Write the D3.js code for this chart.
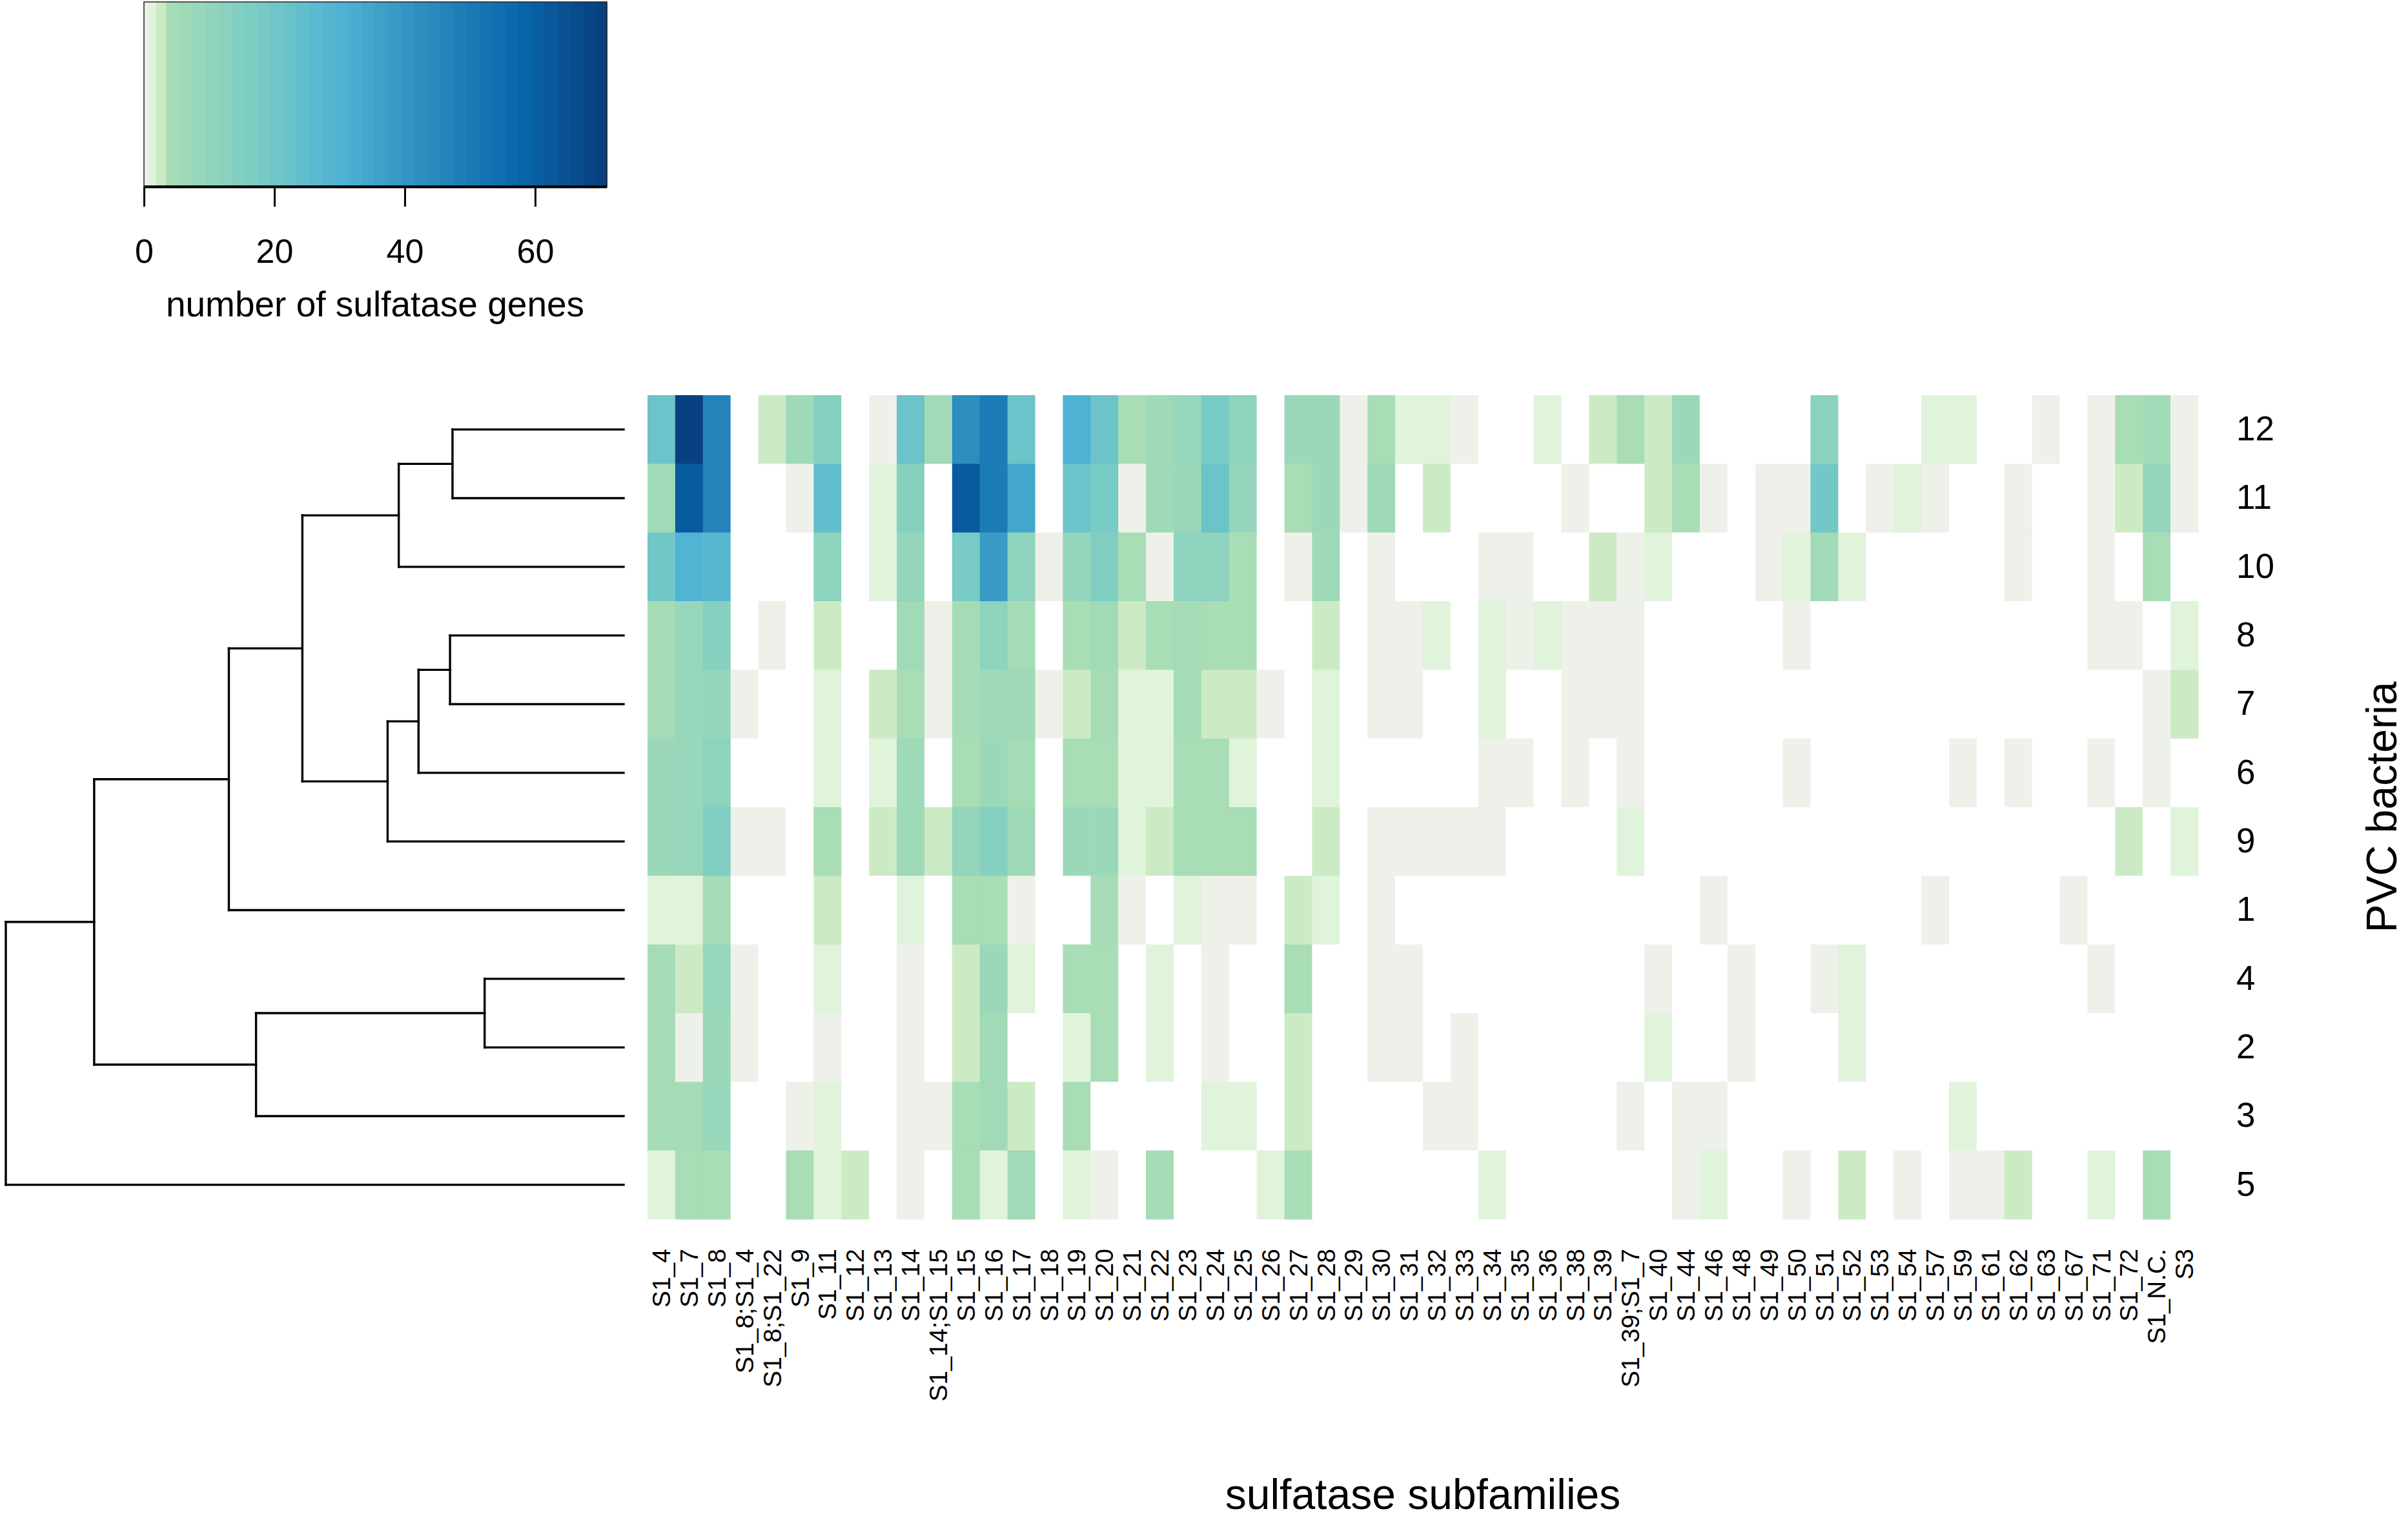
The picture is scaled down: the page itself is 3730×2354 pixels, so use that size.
<!DOCTYPE html>
<html>
<head>
<meta charset="utf-8">
<script src="https://cdn.jsdelivr.net/npm/d3@7"></script>
<style>
  body { margin: 0; background: #fff; }
  svg text { font-family: "Liberation Sans", Arial, sans-serif; fill: #000; }
</style>
</head>
<body>
<svg id="chart" width="3730" height="2354"></svg>
<script>
"use strict";

// columns of the heatmap
var subfamilies = ["S1_4","S1_7","S1_8","S1_8;S1_4","S1_8;S1_22","S1_9","S1_11","S1_12","S1_13","S1_14",
  "S1_14;S1_15","S1_15","S1_16","S1_17","S1_18","S1_19","S1_20","S1_21","S1_22","S1_23",
  "S1_24","S1_25","S1_26","S1_27","S1_28","S1_29","S1_30","S1_31","S1_32","S1_33",
  "S1_34","S1_35","S1_36","S1_38","S1_39","S1_39;S1_7","S1_40","S1_44","S1_46","S1_48",
  "S1_49","S1_50","S1_51","S1_52","S1_53","S1_54","S1_57","S1_59","S1_61","S1_62",
  "S1_63","S1_67","S1_71","S1_72","S1_N.C.","S3"];

// rows, in dendrogram order (top to bottom)
var strains = ["12","11","10","8","7","6","9","1","4","2","3","5"];

var row12 = [22,71,47,0,3,7,14,0,1,22, 6,44,50,22,0,31,22,4,7,9, 18,12,0,8,8,1,4,2,2,1, 0,0,2,0,3,4,3,8,0,0, 0,0,13,0,0,0,2,2,0,0, 1,0,1,4,6,1];
var row11 = [6,62,47,0,0,1,25,0,2,14, 0,62,50,35,0,22,18,1,7,8, 22,10,0,4,8,1,7,0,3,0, 0,0,0,1,0,0,3,4,1,0, 1,1,20,0,1,2,1,0,0,1, 0,0,1,3,10,1];
var row10 = [20,30,28,0,0,0,12,0,2,10, 0,18,39,12,1,10,16,4,1,12, 12,4,0,1,7,0,1,0,0,0, 1,1,0,0,3,1,2,0,0,0, 1,2,6,2,0,0,0,0,0,1, 0,0,1,0,4,0];
var row8  = [5,9,14,0,1,0,3,0,0,6, 1,5,12,5,0,4,6,3,4,5, 4,4,0,0,3,0,1,1,2,0, 2,1,2,1,1,1,0,0,0,0, 0,1,0,0,0,0,0,0,0,0, 0,0,1,1,0,2];
var row7  = [5,9,10,1,0,0,2,0,3,4, 1,5,7,7,1,3,5,2,2,5, 3,3,1,0,2,0,1,1,0,0, 2,0,0,1,1,1,0,0,0,0, 0,0,0,0,0,0,0,0,0,0, 0,0,0,0,1,3];
var row6  = [8,9,12,0,0,0,2,0,2,7, 0,4,8,5,0,4,4,2,2,4, 4,2,0,0,2,0,0,0,0,0, 1,1,0,1,0,1,0,0,0,0, 0,1,0,0,0,0,0,1,0,1, 0,0,1,0,1,0];
var row9  = [8,9,16,1,1,0,4,0,3,7, 3,10,14,7,0,8,8,2,3,4, 4,4,0,0,3,0,1,1,1,1, 1,0,0,0,0,2,0,0,0,0, 0,0,0,0,0,0,0,0,0,0, 0,0,0,3,0,2];
var row1  = [2,2,5,0,0,0,3,0,0,2, 0,4,4,1,0,0,5,1,0,2, 1,1,0,3,2,0,1,0,0,0, 0,0,0,0,0,0,0,0,1,0, 0,0,0,0,0,0,1,0,0,0, 0,1,0,0,0,0];
var row4  = [5,3,9,1,0,0,2,0,0,1, 0,3,8,2,0,4,4,0,2,0, 1,0,0,4,0,0,1,1,0,0, 0,0,0,0,0,0,1,0,0,1, 0,0,1,2,0,0,0,0,0,0, 0,0,1,0,0,0];
var row2  = [5,1,8,1,0,0,1,0,0,1, 0,3,6,0,0,2,4,0,2,0, 1,0,0,3,0,0,1,1,0,1, 0,0,0,0,0,0,2,0,0,1, 0,0,0,2,0,0,0,0,0,0, 0,0,0,0,0,0];
var row3  = [5,5,9,0,0,1,2,0,0,1, 1,4,6,3,0,4,0,0,0,0, 2,2,0,3,0,0,0,0,1,1, 0,0,0,0,0,1,0,1,1,0, 0,0,0,0,0,0,0,2,0,0, 0,0,0,0,0,0];
var row5  = [2,4,4,0,0,4,2,3,0,1, 0,4,2,6,0,2,1,0,5,0, 0,0,2,4,0,0,0,0,0,0, 2,0,0,0,0,0,0,1,2,0, 0,1,0,3,0,1,0,1,1,3, 0,0,2,0,4,0];

var counts = [row12, row11, row10, row8, row7, row6, row9, row1, row4, row2, row3, row5];

// hierarchical clustering of the rows: [left, right, height]; merge i is called "m" + (i + 1)
var merges = [
  ["12", "11", 27.7],
  ["m1", "10", 36.4],
  ["8", "7", 28.1],
  ["m3", "6", 33.2],
  ["m4", "9", 38.2],
  ["m2", "m5", 52.0],
  ["m6", "1", 63.9],
  ["4", "2", 22.5],
  ["m8", "3", 59.5],
  ["m7", "m9", 85.7],
  ["m10", "5", 100]
];

// colour key
var legendTicks = [0, 20, 40, 60];
var legendMax = 71;
var colorStops = [1, 2, 3, 4, 17.4, 30.8, 44.2, 57.6, 71];
var colorRange = ["#eef1e9", "#e0f3db", "#ccebc5", "#a8ddb5", "#7bccc4", "#4eb3d3", "#2b8cbe", "#0868ac", "#084081"];

var svg = d3.select("#chart");

var fill = d3.scaleLinear().domain(colorStops).range(colorRange).clamp(true);
function cellColor(v) { return v === 0 ? "#ffffff" : fill(v); }

var x = d3.scaleBand().domain(subfamilies).range([1003, 3405]);
var y = d3.scaleBand().domain(strains).range([612, 1888]);

// cells
var cells = [];
counts.forEach(function(row, i) {
  row.forEach(function(v, j) {
    cells.push({ strain: strains[i], sub: subfamilies[j], v: v });
  });
});

svg.append("g")
  .selectAll("rect")
  .data(cells)
  .enter().append("rect")
    .attr("x", function(d) { return x(d.sub) })
    .attr("y", function(d) { return y(d.strain) })
    .attr("width", x.bandwidth() + 0.6)
    .attr("height", y.bandwidth() + 0.6)
    .attr("fill", function(d) { return cellColor(d.v) })

// column labels
var xAxis = svg.append("g")
  .attr("transform", "translate(0,1888)")
  .call(d3.axisBottom(x).tickSize(0));
xAxis.select(".domain").remove();
xAxis.selectAll("text")
  .attr("transform", "rotate(-90)")
  .attr("x", -46)
  .attr("y", 0)
  .attr("dy", "0.35em")
  .style("text-anchor", "end")
  .style("font-size", "39px");

// row labels
var yAxis = svg.append("g")
  .attr("transform", "translate(3405,0)")
  .call(d3.axisRight(y).tickSize(0).tickPadding(59));
yAxis.select(".domain").remove();
yAxis.selectAll("text")
  .style("font-size", "53px");

// dendrogram
var h = d3.scaleLinear().domain([0, 100]).range([966, 9]);
var nodes = {};
strains.forEach(function(s) {
  nodes[s] = { y: y(s) + y.bandwidth() / 2, h: 0 };
});
var segments = [];
merges.forEach(function(m, i) {
  var a = nodes[m[0]], b = nodes[m[1]];
  segments.push({ x1: h(m[2]), y1: a.y, x2: h(m[2]), y2: b.y });
  segments.push({ x1: h(m[2]), y1: a.y, x2: h(a.h), y2: a.y });
  segments.push({ x1: h(m[2]), y1: b.y, x2: h(b.h), y2: b.y });
  nodes["m" + (i + 1)] = { y: (a.y + b.y) / 2, h: m[2] };
});

svg.append("g")
  .selectAll("line")
  .data(segments)
  .enter().append("line")
    .attr("x1", function(d) { return d.x1 })
    .attr("y1", function(d) { return d.y1 })
    .attr("x2", function(d) { return d.x2 })
    .attr("y2", function(d) { return d.y2 })
    .style("stroke", "#000")
    .style("stroke-width", 3.4)
    .style("stroke-linecap", "square");

// colour key
var lx = d3.scaleLinear().domain([0, legendMax]).range([223, 940]);
var breaks = [0, 0.7, 1.8, 3.4].concat(d3.range(5.4, legendMax, 2)).concat([legendMax]);
var stripes = d3.pairs(breaks);

var key = svg.append("g");
key.selectAll("rect")
  .data(stripes)
  .enter().append("rect")
    .attr("x", function(d) { return lx(d[0]) })
    .attr("y", 3)
    .attr("width", function(d) { return lx(d[1]) - lx(d[0]) + 0.6 })
    .attr("height", 285)
    .attr("fill", function(d) { return fill(Math.round(d[1])) });
key.append("rect")
  .attr("x", lx(0)).attr("y", 3)
  .attr("width", lx(legendMax) - lx(0)).attr("height", 285)
  .attr("fill", "none")
  .style("stroke", "#222")
  .style("stroke-width", 1.5);

var keyAxis = key.append("g")
  .attr("transform", "translate(0,289)")
  .call(d3.axisBottom(lx).tickValues(legendTicks).tickSize(31).tickSizeOuter(0).tickPadding(50));
keyAxis.select(".domain").style("stroke-width", 4);
keyAxis.selectAll(".tick line").style("stroke-width", 3);
keyAxis.selectAll("text").style("font-size", "52px");

key.append("text")
  .attr("x", 581)
  .attr("y", 490)
  .style("text-anchor", "middle")
  .style("font-size", "55px")
  .text("number of sulfatase genes");

// axis titles
svg.append("text")
  .attr("x", 2204)
  .attr("y", 2337)
  .style("text-anchor", "middle")
  .style("font-size", "66px")
  .text("sulfatase subfamilies");

svg.append("text")
  .attr("transform", "translate(3712,1250) rotate(-90)")
  .style("text-anchor", "middle")
  .style("font-size", "66px")
  .text("PVC bacteria");
</script>
</body>
</html>
